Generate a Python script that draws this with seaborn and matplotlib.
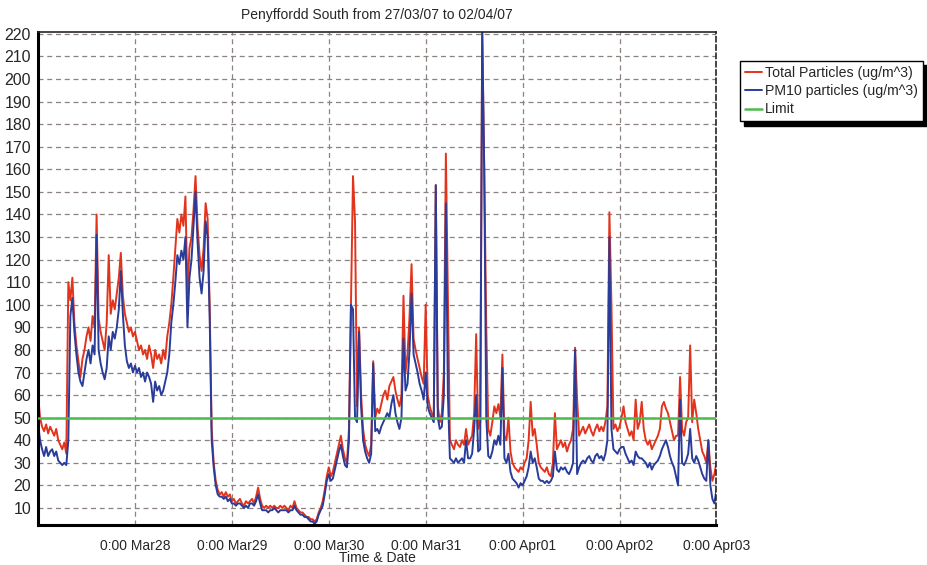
import numpy as np
import pandas as pd
import matplotlib
matplotlib.use('Agg')
import matplotlib.pyplot as plt
import matplotlib.dates as mdates
from matplotlib.ticker import FuncFormatter
import seaborn as sns

# half-hourly readings from 27/03/07 00:00 to 03/04/07 00:00 (ug/m^3)
start = '2007-03-27 00:00'
step = '30min'

total_particles = [
    60, 50, 46, 44, 47, 43, 46, 44, 42, 45, 40, 38,
    36, 39, 34, 110, 102, 112, 92, 82, 75, 68, 76, 80,
    86, 90, 84, 95, 90, 140, 94, 88, 84, 80, 92, 122,
    96, 102, 98, 105, 112, 123, 104, 96, 92, 88, 90, 86,
    88, 84, 80, 82, 78, 80, 76, 82, 78, 72, 80, 76,
    78, 74, 80, 76, 86, 92, 100, 112, 125, 138, 132, 140,
    135, 148, 105, 125, 130, 142, 157, 135, 122, 115, 125, 145,
    138, 100, 45, 30, 22, 18, 16, 17, 15, 17, 15, 16,
    13, 14, 12, 13, 14, 12, 11, 13, 12, 13, 14, 12,
    15, 19, 14, 11, 10, 11, 10, 11, 10, 11, 10, 10,
    11, 10, 11, 10, 9, 11, 10, 13, 10, 9, 8, 8,
    7, 6, 6, 5, 5, 4, 5, 8, 10, 13, 18, 24,
    28, 24, 26, 30, 34, 38, 42, 36, 32, 30, 45, 100,
    157, 137, 55, 90, 60, 45, 38, 35, 33, 38, 75, 50,
    54, 52, 56, 60, 62, 58, 64, 66, 68, 62, 58, 55,
    60, 104, 70, 78, 95, 118, 85, 80, 76, 72, 68, 65,
    100, 60, 55, 52, 50, 153, 55, 48, 52, 70, 167, 105,
    40, 38, 36, 40, 38, 37, 40, 38, 45, 38, 40, 42,
    52, 87, 45, 48, 221, 160, 90, 45, 42, 48, 55, 52,
    56, 50, 78, 42, 40, 50, 35, 30, 28, 27, 26, 28,
    27, 30, 32, 40, 57, 42, 45, 38, 30, 28, 27, 26,
    28, 25, 24, 30, 52, 36, 38, 40, 37, 39, 35, 38,
    40, 45, 81, 58, 42, 44, 46, 43, 45, 47, 44, 42,
    45, 47, 44, 46, 44, 48, 55, 141, 100, 45, 47, 44,
    46, 50, 55, 48, 45, 42, 44, 40, 58, 45, 48, 57,
    45, 40, 38, 40, 36, 38, 40, 42, 45, 55, 57, 54,
    52, 48, 44, 40, 42, 42, 68, 45, 42, 48, 50, 82,
    48, 58, 52, 45, 40, 35, 33, 30, 40, 28, 22, 25,
    30,
]

pm10_particles = [
    47, 40, 36, 33, 37, 33, 35, 36, 33, 35, 31, 30,
    29, 30, 29, 40, 95, 103, 88, 78, 70, 66, 64, 70,
    76, 80, 74, 82, 78, 131, 80, 74, 70, 67, 72, 86,
    80, 88, 85, 90, 98, 115, 96, 82, 75, 72, 74, 70,
    73, 70, 72, 68, 70, 66, 70, 68, 65, 57, 66, 62,
    64, 60, 62, 66, 70, 78, 92, 100, 110, 122, 118, 124,
    120, 130, 90, 112, 120, 135, 150, 128, 112, 105, 115, 137,
    130, 95, 40, 28, 20, 16, 15, 15, 14, 15, 13, 14,
    12, 12, 11, 12, 12, 11, 10, 11, 10, 12, 12, 11,
    13, 16, 12, 9, 9, 9, 8, 9, 9, 10, 9, 8,
    9, 9, 9, 9, 8, 9, 9, 11, 9, 8, 7, 7,
    6, 6, 5, 4, 4, 3, 4, 7, 9, 11, 16, 22,
    25, 22, 23, 27, 31, 35, 38, 33, 29, 28, 40, 100,
    98, 50, 48, 88, 55, 40, 35, 32, 30, 34, 74, 44,
    45, 43, 46, 48, 50, 52, 50, 56, 60, 52, 48, 45,
    50, 85, 62, 65, 80, 105, 78, 74, 70, 65, 62, 58,
    70, 55, 52, 50, 48, 153, 50, 45, 46, 60, 145, 60,
    32, 31, 30, 32, 30, 31, 32, 30, 40, 32, 32, 34,
    45, 60, 35, 36, 221, 160, 50, 33, 32, 35, 40, 38,
    42, 38, 72, 32, 30, 34, 26, 23, 22, 21, 19, 21,
    20, 22, 24, 28, 35, 30, 32, 28, 23, 22, 22, 21,
    22, 21, 22, 24, 35, 27, 26, 28, 27, 28, 26, 25,
    27, 30, 80, 25, 28, 30, 31, 30, 32, 33, 31, 30,
    33, 34, 32, 33, 31, 34, 40, 130, 45, 36, 35, 34,
    36, 37, 37, 34, 32, 30, 31, 29, 35, 33, 32, 32,
    31, 30, 28, 30, 27, 29, 30, 31, 33, 36, 38, 40,
    37, 33, 30, 28, 24, 20, 58, 30, 29, 31, 34, 45,
    32, 30, 33, 31, 28, 25, 23, 22, 40, 20, 14, 12,
    18,
]

limit = 50

df = pd.DataFrame({
    'time': pd.date_range(start, periods=len(total_particles), freq=step),
    'total': total_particles,
    'pm10': pm10_particles,
})
df['limit'] = limit

sns.set_style('white')
plt.rcParams['font.family'] = ['Liberation Sans', 'DejaVu Sans']

fig = plt.figure(figsize=(9.28, 5.65), dpi=100)
ax = fig.add_axes([0.041, 0.071, 0.731, 0.873])

sns.lineplot(data=df, x='time', y='total', ax=ax, color='#e2341d', lw=1.4,
             label='Total Particles (ug/m^3)')
sns.lineplot(data=df, x='time', y='pm10', ax=ax, color='#2a3c9a', lw=1.4,
             label='PM10 particles (ug/m^3)')
sns.lineplot(data=df, x='time', y='limit', ax=ax, color='#4cba4c', lw=1.8,
             label='Limit', zorder=5)

ax.set_xlim(df['time'].iloc[0], df['time'].iloc[-1])
ax.set_ylim(2.5, 221)
ax.set_yticks(np.arange(10, 221, 10))

ax.xaxis.set_major_locator(mdates.DayLocator())
ax.xaxis.set_minor_locator(mdates.HourLocator(byhour=[6, 12, 18]))
ax.xaxis.set_major_formatter(FuncFormatter(
    lambda v, p: '' if mdates.num2date(v).day == 27 else
    '{}:{:02d} {}'.format(mdates.num2date(v).hour, mdates.num2date(v).minute,
                          mdates.num2date(v).strftime('%b%d'))))

ax.grid(True, which='major', color='#8c8280', ls=(0, (4, 3)), lw=0.9)
ax.tick_params(axis='y', labelsize=11.5, length=3, color='#777777', pad=2)
ax.tick_params(axis='x', which='major', labelsize=10, length=4, color='#999999', pad=6)
ax.tick_params(axis='x', which='minor', length=3, color='#999999')

for side in ['left', 'bottom']:
    ax.spines[side].set_linewidth(2.2)
    ax.spines[side].set_color('black')
ax.spines['top'].set_linewidth(1.2)
ax.spines['right'].set_linewidth(1.2)
ax.spines['right'].set_linestyle((0, (3, 2)))

ax.set_title('Penyffordd South from 27/03/07 to 02/04/07', fontsize=10, pad=9)
ax.set_xlabel('Time & Date', fontsize=10, labelpad=-1)
ax.set_ylabel('')

handles, labels = ax.get_legend_handles_labels()
ax.get_legend().remove()
leg = fig.legend(handles, labels, loc='upper left', bbox_to_anchor=(0.797, 0.892),
                 fontsize=10.2, frameon=True, fancybox=False, handlelength=1.2,
                 handletextpad=0.25, borderpad=0.35, labelspacing=0.3,
                 borderaxespad=0.0,
                 shadow={'color': 'black', 'alpha': 1, 'ox': 3, 'oy': -3})
leg.get_frame().set_edgecolor('black')
leg.get_frame().set_linewidth(1.0)

fig.savefig('out.png', dpi=100, facecolor='white')
